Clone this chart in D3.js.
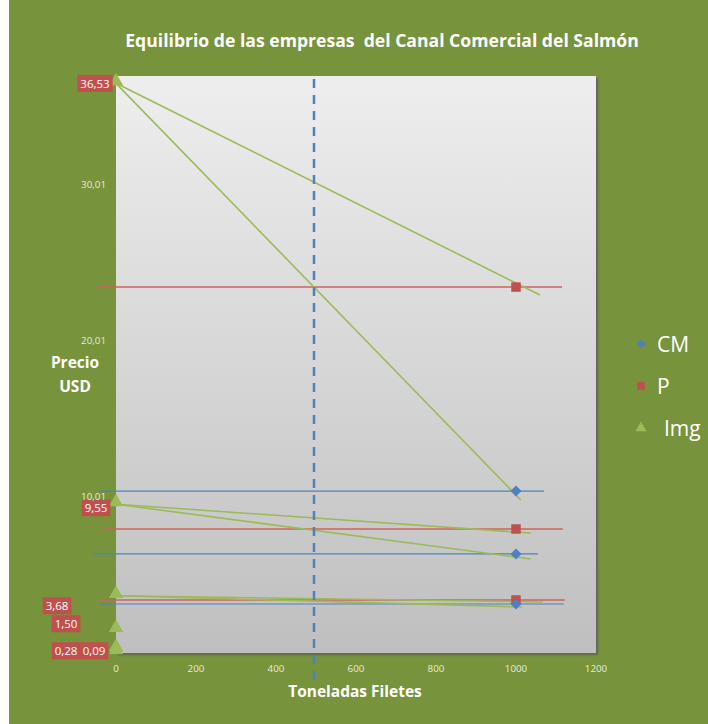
<!DOCTYPE html>
<html>
<head>
<meta charset="utf-8">
<script src="https://cdn.jsdelivr.net/npm/d3@7"></script>
<style>
  html, body { margin: 0; padding: 0; background: #ffffff; }
  svg { display: block; }
  text { font-family: "Open Sans", "Liberation Sans", sans-serif; }
</style>
</head>
<body>
<svg id="chart" width="708" height="724"></svg>
<script>
// Series values
const imgQty    = [0, 0, 0, 0, 0, 0];
const imgPrices = [36.53, 9.55, 3.68, 1.50, 0.28, 0.09];
const cmQty     = [1000, 1000, 1000];
const cmPrices  = [10.39, 6.36, 3.15];
const pQty      = [1000, 1000, 1000];
const pPrices   = [23.47, 7.96, 3.41];

// Demand segments (green): start quantity, start price, end quantity, end price
const demandX0 = [0, 0, 0, 0, 0, 0];
const demandY0 = [36.53, 36.53, 9.55, 9.55, 3.68, 3.68];
const demandX1 = [1060, 1012, 1037, 1037, 1067, 1015];
const demandY1 = [22.96, 9.82, 7.70, 6.04, 3.28, 2.96];

// Horizontal price levels (P, red) and marginal cost levels (CM, blue)
const pLevel   = [23.47, 7.96, 3.41];
const pFrom    = [-47, -32, -42];
const pTo      = [1115, 1117, 1122];
const cmLevel  = [10.39, 6.36, 3.15];
const cmFrom   = [-40, -57, -40];
const cmTo     = [1070, 1055, 1120];

// Equilibrium quantity (dashed marker)
const eqQty = 495;

// Axis ticks (the 0,01 gridline value sits under the data labels, so only the upper labels are written)
const yTicks = [10.01, 20.01, 30.01];
const xTicks = [0, 200, 400, 600, 800, 1000, 1200];
const legendNames = ["CM", "P", "Img"];

const fmt = v => d3.format(".2f")(v).replace(".", ",");

const svg = d3.select("#chart");
const W = 708, H = 724;

// Outer chart area
svg.append("rect").attr("x", 0).attr("y", 0).attr("width", W).attr("height", H).attr("fill", "#ffffff");
svg.append("rect").attr("x", 9).attr("y", 0).attr("width", W - 9).attr("height", H).attr("fill", "#77933c");
svg.append("line").attr("x1", 9.5).attr("x2", 9.5).attr("y1", 0).attr("y2", H)
  .attr("stroke", "#e46c0a").attr("stroke-width", 1);

const plot = { left: 116, right: 596, top: 76, bottom: 653 };
const x = d3.scaleLinear().domain([0, 1200]).range([plot.left, plot.right]);
const y = d3.scaleLinear().domain([0.01, 37.0]).range([plot.bottom, plot.top]);

const defs = svg.append("defs");
const grad = defs.append("linearGradient").attr("id", "plotbg")
  .attr("x1", 0).attr("y1", 0).attr("x2", 0).attr("y2", 1);
grad.append("stop").attr("offset", "0%").attr("stop-color", "#eeeeee");
grad.append("stop").attr("offset", "100%").attr("stop-color", "#bfbfbf");
const blur = defs.append("filter").attr("id", "shadow").attr("x", "-5%").attr("y", "-5%").attr("width", "110%").attr("height", "110%");
blur.append("feGaussianBlur").attr("stdDeviation", 1.2);

// Plot area with soft shadow
svg.append("rect")
  .attr("x", plot.left + 2).attr("y", plot.top + 2)
  .attr("width", plot.right - plot.left).attr("height", plot.bottom - plot.top)
  .attr("fill", "#5a5a5a").attr("opacity", 0.8).attr("filter", "url(#shadow)");
svg.append("rect")
  .attr("x", plot.left).attr("y", plot.top)
  .attr("width", plot.right - plot.left).attr("height", plot.bottom - plot.top)
  .attr("fill", "url(#plotbg)");

// Title
svg.append("text").attr("x", 382).attr("y", 47).attr("text-anchor", "middle")
  .attr("xml:space", "preserve")
  .attr("fill", "#ffffff").attr("font-weight", "bold").attr("font-size", 17.6)
  .text("Equilibrio de las empresas  del Canal Comercial del Salmón");

// Horizontal P and CM levels
const hLines = svg.append("g");
pLevel.forEach((v, i) => {
  hLines.append("line").attr("x1", x(pFrom[i])).attr("x2", x(pTo[i]))
    .attr("y1", y(v)).attr("y2", y(v))
    .attr("stroke", "#d0605c").attr("stroke-width", 1.4);
});
cmLevel.forEach((v, i) => {
  hLines.append("line").attr("x1", x(cmFrom[i])).attr("x2", x(cmTo[i]))
    .attr("y1", y(v)).attr("y2", y(v))
    .attr("stroke", "#4f81bd").attr("stroke-width", 1.2);
});

// Demand segments
const dLines = svg.append("g");
demandX0.forEach((x0, i) => {
  dLines.append("line")
    .attr("x1", x(x0)).attr("y1", y(demandY0[i]))
    .attr("x2", x(demandX1[i])).attr("y2", y(demandY1[i]))
    .attr("stroke", "#9bbb59").attr("stroke-width", 1.6);
});

// Markers
const sym = (type, size) => d3.symbol().type(type).size(size)();
svg.append("g").selectAll("path").data(pPrices).join("path")
  .attr("d", sym(d3.symbolSquare, 90))
  .attr("transform", (d, i) => `translate(${x(pQty[i])},${y(d)})`)
  .attr("fill", "#c0504d");
svg.append("g").selectAll("path").data(cmPrices).join("path")
  .attr("d", sym(d3.symbolSquare, 60))
  .attr("transform", (d, i) => `translate(${x(cmQty[i])},${y(d)}) rotate(45)`)
  .attr("fill", "#4f81bd");
svg.append("g").selectAll("path").data(imgPrices).join("path")
  .attr("d", sym(d3.symbolTriangle, 90))
  .attr("transform", (d, i) => `translate(${x(imgQty[i])},${y(d) - 2})`)
  .attr("fill", "#9bbb59");

// Data labels for Img
const labelDX = [-21, -20, -59, -50, -50, -22];
const labelDY = [0, 3.5, 10, -6, 2, -1];
const lbl = svg.append("g");
imgPrices.forEach((v, i) => {
  const cx = x(imgQty[i]) + labelDX[i];
  const cy = y(v) + labelDY[i];
  const box = lbl.append("rect").attr("fill", "#c0504d");
  const t = lbl.append("text").attr("x", cx).attr("y", cy + 4.5).attr("text-anchor", "middle")
    .attr("fill", "#ffffff").attr("font-size", 11.5).text(fmt(v));
  const w = t.node().getComputedTextLength() + 6;
  box.attr("x", cx - w / 2).attr("y", cy - 8.5).attr("width", w).attr("height", 17);
});

// Y axis tick labels
svg.append("g").selectAll("text").data(yTicks).join("text")
  .attr("x", 106).attr("y", d => y(d) + 3).attr("text-anchor", "end")
  .attr("fill", "#e6ecd8").attr("font-size", 9.8).text(fmt);

// X axis tick labels
svg.append("g").selectAll("text").data(xTicks).join("text")
  .attr("x", d => x(d)).attr("y", 672).attr("text-anchor", "middle")
  .attr("fill", "#e6ecd8").attr("font-size", 9.8).text(d => d);

// Equilibrium quantity dashed line
svg.append("line").attr("x1", x(eqQty)).attr("x2", x(eqQty))
  .attr("y1", plot.top + 3).attr("y2", 681)
  .attr("stroke", "#4f81bd").attr("stroke-width", 2.5)
  .attr("stroke-dasharray", "9,7");

// Axis titles
svg.append("text").attr("x", 75).attr("y", 368).attr("text-anchor", "middle")
  .attr("fill", "#ffffff").attr("font-weight", "bold").attr("font-size", 15.5).text("Precio");
svg.append("text").attr("x", 75).attr("y", 392).attr("text-anchor", "middle")
  .attr("fill", "#ffffff").attr("font-weight", "bold").attr("font-size", 15.5).text("USD");
svg.append("text").attr("x", 355).attr("y", 697).attr("text-anchor", "middle")
  .attr("fill", "#ffffff").attr("font-weight", "bold").attr("font-size", 15.5).text("Toneladas Filetes");

// Legend
const legY = [344, 386, 428];
const legColors = ["#4f81bd", "#c0504d", "#9bbb59"];
const legTextX = [657, 657, 664];
const legMarks = [
  sym(d3.symbolSquare, 40),
  sym(d3.symbolSquare, 60),
  sym(d3.symbolTriangle, 55)
];
const legRot = [45, 0, 0];
legendNames.forEach((n, i) => {
  svg.append("path").attr("d", legMarks[i])
    .attr("transform", `translate(641,${legY[i]}) rotate(${legRot[i]})`).attr("fill", legColors[i]);
  svg.append("text").attr("x", legTextX[i]).attr("y", legY[i] + 8)
    .attr("fill", "#ffffff").attr("font-size", 21).text(n);
});
</script>
</body>
</html>
